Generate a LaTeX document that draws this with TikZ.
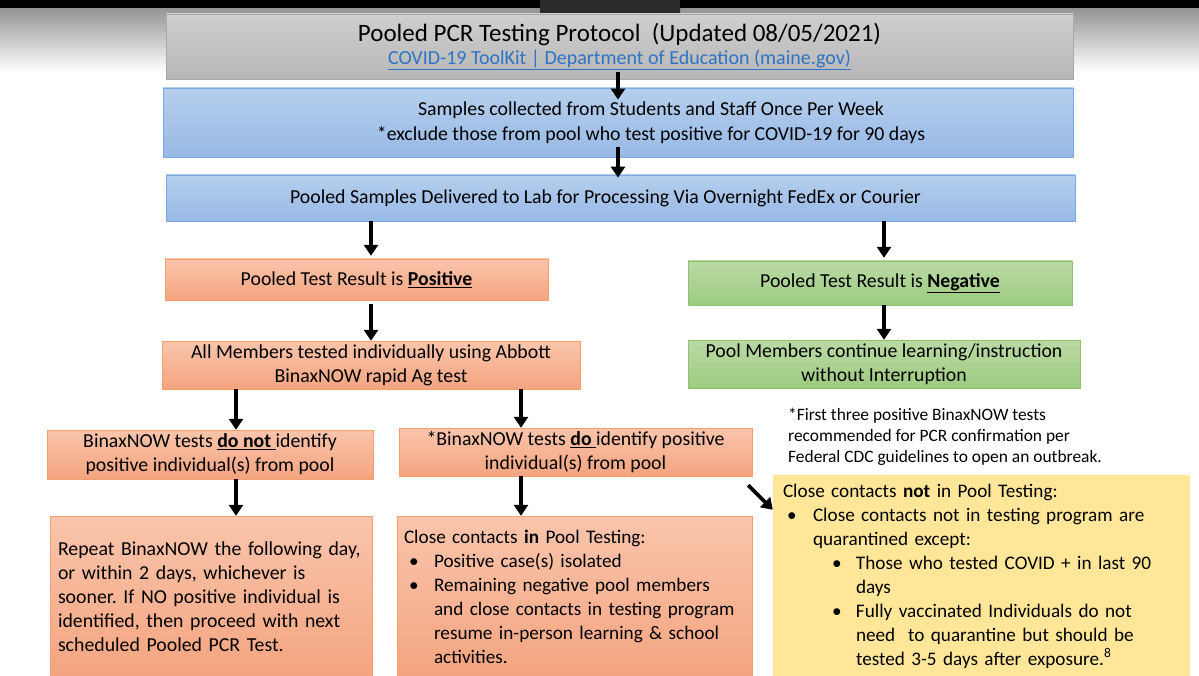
\documentclass[tikz,border=0pt]{standalone}
\usepackage{fontspec}
\setmainfont{Carlito}
\usetikzlibrary{arrows.meta}

\definecolor{grayTop}{HTML}{CFCFCF}
\definecolor{grayBot}{HTML}{B7B7B7}
\definecolor{grayEdge}{HTML}{A8A8A8}
\definecolor{blueTop}{HTML}{B5CEEC}
\definecolor{blueBot}{HTML}{98BAE6}
\definecolor{blueEdge}{HTML}{79A9E0}
\definecolor{salTop}{HTML}{F9C5AC}
\definecolor{salBot}{HTML}{F4A47F}
\definecolor{salEdge}{HTML}{F5A06C}
\definecolor{grnTop}{HTML}{BADAA5}
\definecolor{grnBot}{HTML}{9DCB80}
\definecolor{grnEdge}{HTML}{8DC26F}
\definecolor{yelFill}{HTML}{FFE699}
\definecolor{linkBlue}{HTML}{2E74C4}
\definecolor{tabDark}{HTML}{2B2B2B}

\frenchspacing
\newcommand{\bodyfont}{\fontsize{19.8}{24}\selectfont}
\newcommand{\listfont}{\fontsize{19.2}{24}\selectfont}
\newcommand{\dotitem}[3]{\par\noindent\hangindent=#2pt\hangafter=1\hspace*{#1pt}\makebox[\dimexpr#2pt-#1pt\relax][l]{\textbullet}#3\par}

\tikzset{
    graybox/.style={top color=grayTop, bottom color=grayBot, draw=grayEdge},
    bluebox/.style={top color=blueTop, bottom color=blueBot, draw=blueEdge, thick},
    salbox/.style={top color=salTop, bottom color=salBot, draw=salEdge},
    grnbox/.style={top color=grnTop, bottom color=grnBot, draw=grnEdge},
    yelbox/.style={fill=yelFill},
}

\begin{document}
\begin{tikzpicture}[x=1pt,y=-1pt]
\useasboundingbox (0,0) rectangle (1199,676);
\clip (0,0) rectangle (1199,676);

% viewer frame
\fill[white] (0,0) rectangle (1199,676);
\shade[top color=black!42, bottom color=white] (0,8) rectangle (1199,72);
\fill[black] (0,0) rectangle (1199,8);
\fill[tabDark, rounded corners=2pt] (540,-6) rectangle (680,17);

\begin{scope}[every node/.style={rectangle, inner xsep=8pt, inner ysep=0pt, align=center, font=\bodyfont}]
    \node[graybox, minimum width=907, minimum height=65] (Title) at (619.5,46.5)
        {{\fontsize{25}{27}\selectfont Pooled PCR Testing Protocol\ \ (Updated 08/05/2021)}\\[-1pt]
         {\fontsize{20}{24}\selectfont\color{linkBlue}\underline{COVID-19 ToolKit | Department of Education (maine.gov)}}};
    \node[bluebox, minimum width=910, minimum height=69] (Samples) at (618,122.5)
        {\hspace*{66pt}Samples collected from Students and Staff Once Per Week\\[1pt]
         \hspace*{66pt}*exclude those from pool who test positive for COVID-19 for 90 days};
    \node[bluebox, minimum width=909, minimum height=46] (Deliv) at (620.5,198)
        {Pooled Samples Delivered to Lab for Processing Via Overnight FedEx or Courier\hspace*{30pt}};
    \node[salbox, minimum width=383, minimum height=41] (Pos) at (356.5,279.5)
        {Pooled Test Result is \underline{\textbf{Positive}}};
    \node[grnbox, minimum width=384, minimum height=44] (Neg) at (880,283)
        {Pooled Test Result is \underline{\textbf{Negative}}};
    \node[salbox, minimum width=418, minimum height=48] (AllM) at (371,365)
        {All Members tested individually using Abbott\\ BinaxNOW rapid Ag test};
    \node[grnbox, minimum width=392, minimum height=48] (PoolM) at (884,364)
        {Pool Members continue learning/instruction\\ without Interruption};
    \node[salbox, minimum width=326, minimum height=49] (NotId) at (210,454.5)
        {BinaxNOW tests \underline{\textbf{do not}\ }identify\\ positive individual(s) from pool};
    \node[salbox, minimum width=353, minimum height=48] (DoId) at (575.5,452)
        {*BinaxNOW tests \underline{\textbf{do}\ }identify positive\\ individual(s) from pool};
    \node[salbox, minimum width=322, minimum height=162, text width=306, align=left] (Repeat) at (211,597)
        {Repeat BinaxNOW the following day,\newline or within 2 days, whichever is\newline
         sooner. If NO positive individual is\newline identified, then proceed with next\newline
         scheduled Pooled PCR Test.};
    \node[salbox, minimum width=355, minimum height=162, text width=341, inner xsep=7pt, align=left, font=\listfont] (CloseIn) at (574.5,597)
        {\noindent Close contacts \textbf{in} Pool Testing:
         \dotitem{5}{30}{Positive case(s) isolated}
         \dotitem{5}{30}{Remaining negative pool members\newline and close contacts in testing program\newline
                         resume in-person learning \& school\newline activities.}};
    \node[yelbox, minimum width=417, minimum height=202, text width=397, inner xsep=10pt, align=left, font=\listfont] (CloseOut) at (981.5,576)
        {\noindent Close contacts \textbf{not} in Pool Testing:
         \dotitem{4}{30}{Close contacts not in testing program are\newline quarantined except:}
         \dotitem{49}{73}{Those who tested COVID + in last 90\newline days}
         \dotitem{49}{73}{Fully vaccinated Individuals do not\newline need\ \ to quarantine but should be\newline
                          tested 3-5 days after exposure.\textsuperscript{8}}};
    \node[anchor=north west, inner sep=0pt, align=left, font=\fontsize{17.4}{21}\selectfont] (Note) at (788,408)
        {*First three positive BinaxNOW tests\\ recommended for PCR confirmation per\\
         Federal CDC guidelines to open an outbreak.};
\end{scope}

\coordinate (xM) at (618,0);
\coordinate (xL) at (371,0);
\coordinate (xR) at (884,0);
\coordinate (xA) at (236,0);
\coordinate (xB) at (521,0);

\begin{scope}[>={Triangle[width=14pt,length=11pt]},
              every edge/.style={draw=black, line width=3.6pt}]
    % main column
    \path [->] (Title.south -| xM) edge[shorten <=-7pt, shorten >=-12pt] (Samples.north -| xM);
    \path [->] (Samples.south -| xM) edge[shorten <=-10pt, shorten >=-3pt] (Deliv.north -| xM);
    % split
    \path [->] (Deliv.south -| xL) edge[shorten >=3pt] (Pos.north -| xL);
    \path [->] (Deliv.south -| xR) edge[shorten >=3pt] (Neg.north -| xR);
    \path [->] (Pos.south -| xL) edge[shorten <=4pt] (AllM.north -| xL);
    \path [->] (Neg.south -| xR) edge (PoolM.north -| xR);
    % rapid tests
    \path [->] (AllM.south -| xA) edge (NotId.north -| xA);
    \path [->] (AllM.south -| xB) edge (DoId.north -| xB);
    \path [->] (NotId.south -| xA) edge (Repeat.north -| xA);
    \path [->] (DoId.south -| xB) edge (CloseIn.north -| xB);
    \path [->] ([xshift=-4pt,yshift=-9pt]DoId.south east) edge ([yshift=-35pt]CloseOut.north west);
\end{scope}
\end{tikzpicture}
\end{document}
